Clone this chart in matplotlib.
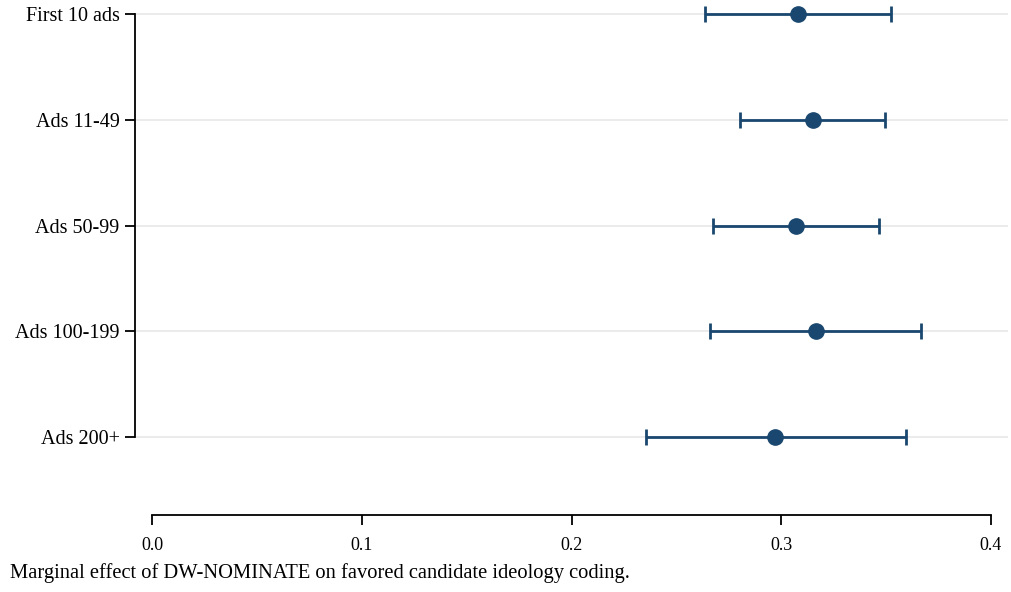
import matplotlib.pyplot as plt
import numpy as np

labels = ['First 10 ads', 'Ads 11-49', 'Ads 50-99', 'Ads 100-199', 'Ads 200+']
est = [0.308, 0.315, 0.307, 0.3165, 0.297]
ci_lo = [0.2635, 0.2805, 0.2675, 0.266, 0.2355]
ci_hi = [0.3525, 0.3495, 0.3465, 0.3665, 0.3595]
xticks = [0.0, 0.1, 0.2, 0.3, 0.4]

navy = '#1a476f'
plt.rcParams['font.family'] = ['Liberation Serif', 'DejaVu Serif']

fig = plt.figure(figsize=(10.11, 5.92), dpi=100)
ax = fig.add_axes([135 / 1011, 1 - 515 / 592, (1008 - 135) / 1011, (515 - 8) / 592])

y = np.arange(len(labels))
est = np.array(est)
err = [est - np.array(ci_lo), np.array(ci_hi) - est]

for yy in y:
    ax.axhline(yy, color='#e6e6e6', lw=1.1, zorder=0)

ax.errorbar(est, y, xerr=err, fmt='o', color=navy, ms=11, elinewidth=2,
            capsize=6, capthick=2, clip_on=False, zorder=3)

ax.set_ylim(4.74, -0.06)
ax.set_xlim((135 - 152) / 2097.5, (1008 - 152) / 2097.5)

ax.set_yticks(y)
ax.set_yticklabels(labels, fontsize=14.5)
ax.set_xticks(xticks)
ax.set_xticklabels(['%.1f' % t for t in xticks], fontsize=13)

for s in ['top', 'right']:
    ax.spines[s].set_visible(False)
ax.spines['left'].set_bounds(0, 4)
ax.spines['bottom'].set_bounds(0, 0.4)
ax.spines['left'].set_linewidth(1.3)
ax.spines['bottom'].set_linewidth(1.3)
ax.tick_params(axis='y', length=7, width=1.3, pad=4)
ax.tick_params(axis='x', length=7, width=1.3, pad=9)

fig.text(10 / 1011, 1 - 573 / 592, 'Marginal effect of DW-NOMINATE on favored candidate ideology coding.',
         fontsize=14.8, va='center', ha='left')

fig.savefig('out.png', dpi=100)
